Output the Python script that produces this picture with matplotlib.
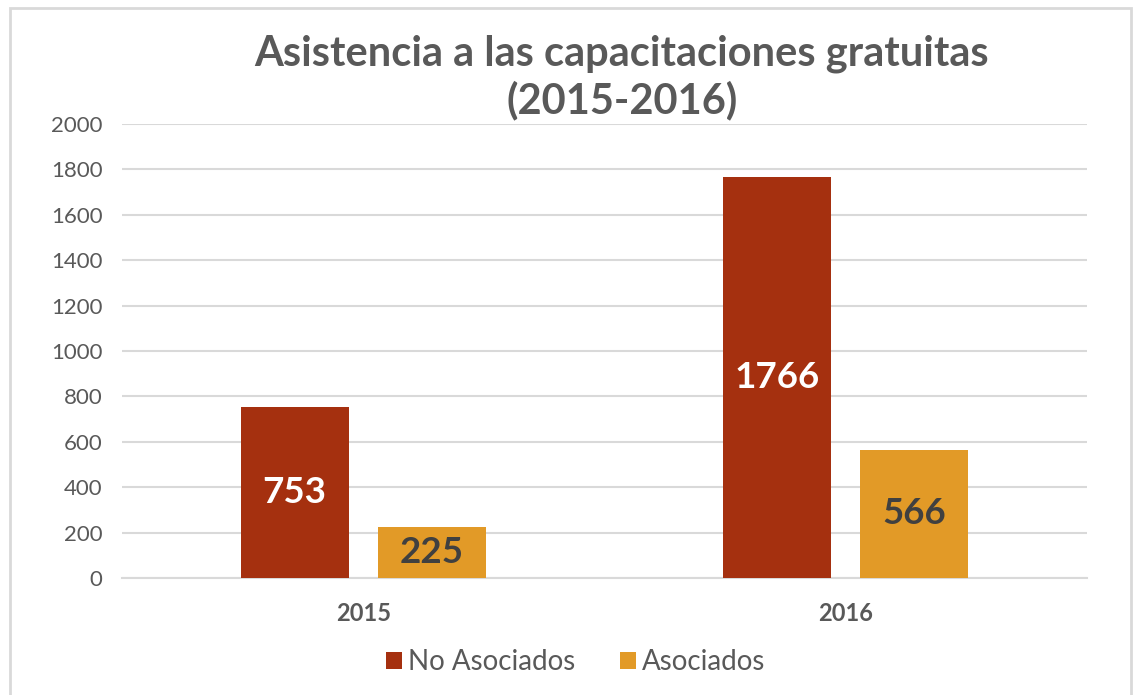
import matplotlib.pyplot as plt
from matplotlib.patches import Rectangle
import numpy as np

plt.rcParams['font.family'] = ['Lato', 'DejaVu Sans']

years = ['2015', '2016']
no_asociados = [753, 1766]
asociados = [225, 566]
series_names = ['No Asociados', 'Asociados']

red = '#A5300F'
orange = '#E29A27'
grid_gray = '#D9D9D9'
text_gray = '#595959'

fig = plt.figure(figsize=(11.35, 6.95), dpi=100)
ax = fig.add_axes([0.1075, 0.1683, 0.85, 0.6533])

# light outer frame like the Excel chart area
fig.patches.append(Rectangle((10 / 1135, -0.01), 1121 / 1135, 1 - 8 / 695 + 0.01,
                             transform=fig.transFigure, fill=False,
                             edgecolor=grid_gray, linewidth=2))

x = np.arange(len(years))
w = 0.224
off = 0.142
b1 = ax.bar(x - off, no_asociados, w, color=red, label=series_names[0], zorder=3)
b2 = ax.bar(x + off, asociados, w, color=orange, label=series_names[1], zorder=3)

for rect, v in zip(b1, no_asociados):
    ax.text(rect.get_x() + rect.get_width() / 2, v / 2, str(v), ha='center', va='center',
            color='white', fontsize=26.5, fontweight='bold', zorder=4)
for rect, v in zip(b2, asociados):
    ax.text(rect.get_x() + rect.get_width() / 2, v / 2, str(v), ha='center', va='center',
            color='#404040', fontsize=26.5, fontweight='bold', zorder=4)

ax.set_xlim(-0.5, 1.5)
ax.set_ylim(0, 2000)
ax.set_yticks(range(0, 2001, 200))
ax.set_xticks(x)
ax.set_xticklabels(years, fontsize=17, fontweight='bold', color=text_gray)
ax.tick_params(axis='y', labelsize=16, labelcolor=text_gray, length=0, pad=14)
ax.tick_params(axis='x', length=0, pad=17)
ax.yaxis.grid(True, color=grid_gray, linewidth=1.5, zorder=0)
for s in ['top', 'right', 'left']:
    ax.spines[s].set_visible(False)
ax.spines['bottom'].set_color(grid_gray)
ax.spines['bottom'].set_linewidth(1.5)

fig.text(0.548, 0.923, 'Asistencia a las capacitaciones gratuitas', ha='center', va='center',
         fontsize=30, fontweight='bold', color=text_gray)
fig.text(0.548, 0.856, '(2015-2016)', ha='center', va='center',
         fontsize=30, fontweight='bold', color=text_gray)

fig.legend(loc='center', bbox_to_anchor=(0.507, 0.047), ncol=2, frameon=False,
           fontsize=20, labelcolor=text_gray, handlelength=0.6, handleheight=0.6,
           handletextpad=0.2, columnspacing=1.6)

fig.savefig('out.png', dpi=100)
